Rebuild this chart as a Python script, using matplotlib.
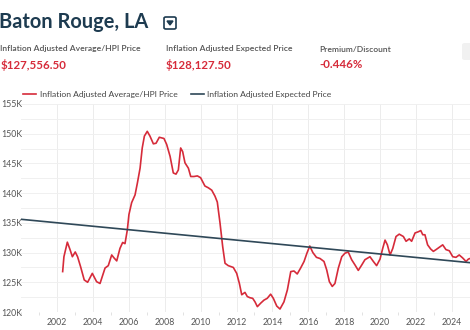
#!/usr/bin/env python

import matplotlib
matplotlib.use("Agg")
import matplotlib.pyplot as plt
from matplotlib.patches import FancyBboxPatch, Polygon
from matplotlib.ticker import MultipleLocator, FuncFormatter

# ----------------------------------------------------------------------
# Data (prices in thousands of dollars)
# ----------------------------------------------------------------------

hpi_years = [2002.32, 2002.39, 2002.58, 2002.73, 2002.86, 2003.02, 2003.15,
             2003.32, 2003.52, 2003.71, 2003.97, 2004.21, 2004.40, 2004.68,
             2004.86, 2005.05, 2005.18, 2005.33, 2005.51, 2005.66, 2005.79,
             2005.92, 2006.01, 2006.16, 2006.35, 2006.48, 2006.63, 2006.75,
             2006.87, 2007.03, 2007.18, 2007.37, 2007.52, 2007.70, 2007.83,
             2007.96, 2008.11, 2008.30, 2008.48, 2008.63, 2008.76, 2008.89,
             2009.00, 2009.13, 2009.32, 2009.45, 2009.63, 2009.82, 2010.00,
             2010.24, 2010.43, 2010.62, 2010.80, 2010.93, 2011.08, 2011.23,
             2011.36, 2011.54, 2011.82, 2012.01, 2012.16, 2012.29, 2012.47,
             2012.60, 2012.75, 2012.90, 2013.03, 2013.16, 2013.35, 2013.53,
             2013.71, 2013.90, 2014.05, 2014.24, 2014.42, 2014.64, 2014.83,
             2015.02, 2015.20, 2015.38, 2015.57, 2015.76, 2015.92, 2016.08,
             2016.25, 2016.45, 2016.65, 2016.87, 2017.02, 2017.17, 2017.33,
             2017.48, 2017.67, 2017.86, 2018.04, 2018.22, 2018.41, 2018.60,
             2018.78, 2018.97, 2019.15, 2019.43, 2019.62, 2019.80, 2019.99,
             2020.14, 2020.27, 2020.40, 2020.55, 2020.70, 2020.88, 2021.06,
             2021.29, 2021.44, 2021.62, 2021.75, 2021.94, 2022.12, 2022.26,
             2022.37, 2022.49, 2022.64, 2022.81, 2022.96, 2023.11, 2023.29,
             2023.48, 2023.66, 2023.85, 2024.04, 2024.22, 2024.40, 2024.59,
             2024.78, 2024.91, 2025.00]

hpi_values = [126.8, 129.3, 131.75, 130.5, 129.3, 130.1, 129.3,
              127.6, 125.4, 125.0, 126.5, 125.1, 124.8, 127.4,
              127.8, 129.6, 129.1, 128.6, 130.7, 131.7, 131.5,
              133.8, 136.4, 138.4, 139.7, 141.7, 144.2, 147.6,
              149.6, 150.4, 149.6, 148.3, 148.4, 149.4, 149.3,
              149.2, 148.2, 146.2, 143.4, 143.2, 143.9, 147.6,
              147.0, 145.1, 144.2, 142.8, 142.8, 142.9, 142.6,
              141.2, 140.9, 140.5, 139.5, 138.5, 135.0, 131.0,
              128.2, 127.8, 127.5, 126.5, 124.8, 122.9, 123.3,
              122.6, 122.4, 122.3, 121.7, 120.9, 121.5, 122.0,
              122.3, 123.0, 122.3, 121.0, 120.5, 121.7, 123.7,
              126.8, 126.9, 126.4, 127.4, 128.5, 129.9, 131.1,
              130.0, 129.2, 129.0, 128.5, 127.1, 125.1, 124.3,
              124.8, 127.4, 129.3, 129.9, 130.1, 128.8, 127.9,
              127.0, 127.9, 128.8, 129.3, 128.5, 127.8, 128.9,
              130.7, 132.1, 131.3, 129.6, 130.7, 132.7, 133.1,
              132.7, 131.9, 132.3, 131.9, 133.3, 133.5, 133.7,
              133.0, 133.0, 131.3, 130.6, 130.2, 130.5, 130.9,
              131.3, 130.5, 130.3, 129.3, 129.2, 129.6, 129.1,
              128.5, 128.9, 129.0]

expected_years = [2000.0, 2025.0]
expected_values = [135.6, 128.3]

series_names = ["Inflation Adjusted Average/HPI Price",
                "Inflation Adjusted Expected Price"]
header_labels = ["Inflation Adjusted Average/HPI Price",
                 "Inflation Adjusted Expected Price",
                 "Premium/Discount"]
header_values = ["$127,556.50", "$128,127.50", "-0.446%"]
title = "Baton Rouge, LA"

# ----------------------------------------------------------------------
# Main code
# ----------------------------------------------------------------------

if __name__ == "__main__":

    red = '#d62b3a'
    navy = '#1d3b50'
    slate = '#2f4858'
    grey = '#555555'

    plt.rcParams['font.family'] = ['Lato', 'DejaVu Sans']

    W, H = 470, 330
    fig = plt.figure(figsize=(W / 100, H / 100), dpi=100)

    # plot area in pixels: x 21..470, y 104..312
    ax = fig.add_axes([21 / W, (H - 312) / H, (470 - 21) / W, (312 - 104) / H])

    ax.plot(hpi_years, hpi_values, color=red, lw=1.2, label=series_names[0])
    ax.plot(expected_years, expected_values, color=slate, lw=1.2,
            label=series_names[1])

    ax.set_xlim(2000, 2025)
    ax.set_ylim(120, 155)

    ax.xaxis.set_minor_locator(MultipleLocator(1))
    ax.set_xticks(range(2002, 2025, 2))
    ax.yaxis.set_major_locator(MultipleLocator(5))
    ax.yaxis.set_minor_locator(MultipleLocator(2.5))
    ax.yaxis.set_major_formatter(FuncFormatter(lambda v, p: '%dK' % v))

    ax.grid(which='major', axis='x', color='#ececec', lw=0.7)
    ax.grid(which='both', axis='y', color='#f0f0f0', lw=0.7)
    ax.set_axisbelow(True)
    for s in ax.spines.values():
        s.set_visible(False)

    ax.tick_params(axis='y', which='both', length=0, pad=14.4,
                   labelsize=6.3, labelcolor=grey)
    for lab in ax.get_yticklabels():
        lab.set_horizontalalignment('left')
    ax.tick_params(axis='x', which='major', length=0, pad=4,
                   labelsize=6.3, labelcolor=grey)
    ax.tick_params(axis='x', which='minor', length=2, color='#dddddd')

    # legend above the plot
    ax.legend(loc='lower left', bbox_to_anchor=(2 / 449, 1.03), ncol=2,
              frameon=False, fontsize=6.1, handlelength=1.5,
              handletextpad=0.45, columnspacing=1.6, labelcolor='#444444',
              borderpad=0.0, borderaxespad=0.0)

    # title and header block
    fig.text(-1 / W, 1 - 22 / H, title, fontsize=14.4, fontweight='bold',
             color=navy, va='center', ha='left')

    # dropdown icon
    box = FancyBboxPatch((164 / W, 1 - 29 / H), 12 / W, 12 / H,
                         boxstyle='round,pad=0,rounding_size=0.004',
                         transform=fig.transFigure, fill=False,
                         ec=navy, lw=1.2)
    fig.patches.append(box)
    tri = Polygon([(167 / W, 1 - 21 / H), (173 / W, 1 - 21 / H),
                   (170 / W, 1 - 25 / H)], closed=True,
                  transform=fig.transFigure, color=navy)
    fig.patches.append(tri)

    # chart-type icon, cut off at the right edge
    ibox = FancyBboxPatch((462 / W, 1 - 60 / H), 16 / W, 17 / H,
                          boxstyle='round,pad=0,rounding_size=0.006',
                          transform=fig.transFigure, fc='#f1f1f1',
                          ec='none')
    fig.patches.append(ibox)

    xs = [0.5, 166, 319]
    for x0, lab, val in zip(xs, header_labels, header_values):
        fig.text(x0 / W, 1 - 49 / H, lab, fontsize=6.1, color=grey,
                 va='center', ha='left', fontweight='semibold')
        fig.text(x0 / W, 1 - 65 / H, val, fontsize=8.3, color=red,
                 va='center', ha='left', fontweight='bold')

    plotfile = 'out.png'
    print('writing : ', plotfile)
    fig.savefig(plotfile, dpi=100)
    plt.close()
